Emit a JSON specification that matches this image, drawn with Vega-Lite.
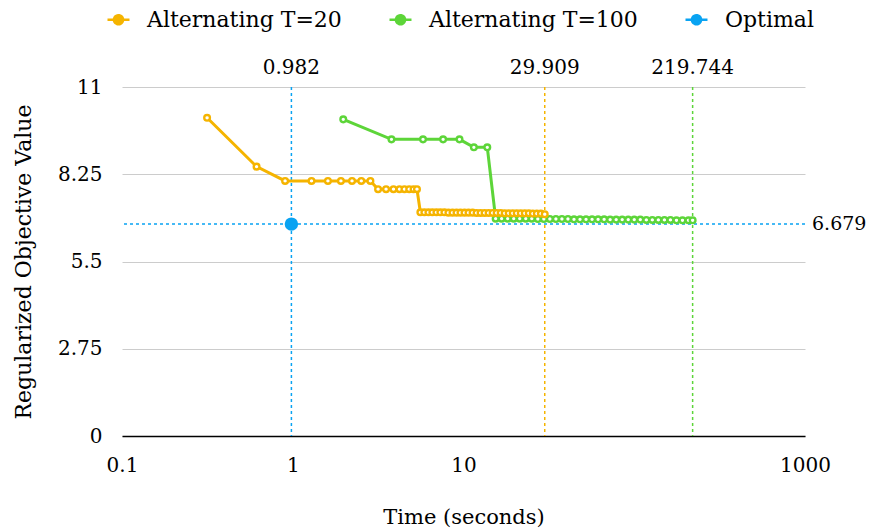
{
  "$schema": "https://vega.github.io/schema/vega-lite/v6.json",
  "width": 683,
  "height": 349,
  "autosize": {"type": "none"},
  "padding": {"left": 122, "top": 87, "right": 65, "bottom": 93},
  "background": "white",
  "config": {
    "font": "DejaVu Serif",
    "view": {"stroke": null},
    "axis": {"labelColor": "black", "titleColor": "black", "labelFont": "DejaVu Serif", "titleFont": "DejaVu Serif"},
    "legend": {"labelFont": "DejaVu Serif"},
    "text": {"font": "DejaVu Serif"}
  },
  "datasets": {
    "t20": [
      {"series": "Alternating T=20", "x": 0.315, "y": 10.03},
      {"series": "Alternating T=20", "x": 0.614, "y": 8.49},
      {"series": "Alternating T=20", "x": 0.902, "y": 8.04},
      {"series": "Alternating T=20", "x": 1.288, "y": 8.04},
      {"series": "Alternating T=20", "x": 1.607, "y": 8.04},
      {"series": "Alternating T=20", "x": 1.915, "y": 8.04},
      {"series": "Alternating T=20", "x": 2.224, "y": 8.04},
      {"series": "Alternating T=20", "x": 2.52, "y": 8.04},
      {"series": "Alternating T=20", "x": 2.85, "y": 8.04},
      {"series": "Alternating T=20", "x": 3.16, "y": 7.78},
      {"series": "Alternating T=20", "x": 3.52, "y": 7.78},
      {"series": "Alternating T=20", "x": 3.89, "y": 7.78},
      {"series": "Alternating T=20", "x": 4.22, "y": 7.78},
      {"series": "Alternating T=20", "x": 4.51, "y": 7.78},
      {"series": "Alternating T=20", "x": 4.81, "y": 7.78},
      {"series": "Alternating T=20", "x": 5.1, "y": 7.78},
      {"series": "Alternating T=20", "x": 5.34, "y": 7.78},
      {"series": "Alternating T=20", "x": 5.59, "y": 7.05},
      {"series": "Alternating T=20", "x": 5.9, "y": 7.05},
      {"series": "Alternating T=20", "x": 6.23, "y": 7.05},
      {"series": "Alternating T=20", "x": 6.57, "y": 7.05},
      {"series": "Alternating T=20", "x": 6.94, "y": 7.05},
      {"series": "Alternating T=20", "x": 7.32, "y": 7.05},
      {"series": "Alternating T=20", "x": 7.73, "y": 7.05},
      {"series": "Alternating T=20", "x": 8.16, "y": 7.04},
      {"series": "Alternating T=20", "x": 8.62, "y": 7.04},
      {"series": "Alternating T=20", "x": 9.1, "y": 7.04},
      {"series": "Alternating T=20", "x": 9.6, "y": 7.04},
      {"series": "Alternating T=20", "x": 10.14, "y": 7.04},
      {"series": "Alternating T=20", "x": 10.7, "y": 7.04},
      {"series": "Alternating T=20", "x": 11.3, "y": 7.04},
      {"series": "Alternating T=20", "x": 11.93, "y": 7.03},
      {"series": "Alternating T=20", "x": 12.59, "y": 7.03},
      {"series": "Alternating T=20", "x": 13.29, "y": 7.03},
      {"series": "Alternating T=20", "x": 14.03, "y": 7.03},
      {"series": "Alternating T=20", "x": 14.81, "y": 7.03},
      {"series": "Alternating T=20", "x": 15.64, "y": 7.03},
      {"series": "Alternating T=20", "x": 16.51, "y": 7.03},
      {"series": "Alternating T=20", "x": 17.43, "y": 7.02},
      {"series": "Alternating T=20", "x": 18.4, "y": 7.02},
      {"series": "Alternating T=20", "x": 19.42, "y": 7.02},
      {"series": "Alternating T=20", "x": 20.5, "y": 7.02},
      {"series": "Alternating T=20", "x": 21.64, "y": 7.02},
      {"series": "Alternating T=20", "x": 22.85, "y": 7.02},
      {"series": "Alternating T=20", "x": 24.12, "y": 7.02},
      {"series": "Alternating T=20", "x": 25.46, "y": 7.01},
      {"series": "Alternating T=20", "x": 26.88, "y": 7.01},
      {"series": "Alternating T=20", "x": 28.38, "y": 7.01},
      {"series": "Alternating T=20", "x": 29.909, "y": 6.99}
    ],
    "t100": [
      {"series": "Alternating T=100", "x": 1.976, "y": 9.98},
      {"series": "Alternating T=100", "x": 3.786, "y": 9.35},
      {"series": "Alternating T=100", "x": 5.793, "y": 9.35},
      {"series": "Alternating T=100", "x": 7.596, "y": 9.35},
      {"series": "Alternating T=100", "x": 9.474, "y": 9.35},
      {"series": "Alternating T=100", "x": 11.5, "y": 9.1},
      {"series": "Alternating T=100", "x": 13.78, "y": 9.1},
      {"series": "Alternating T=100", "x": 15.43, "y": 6.85},
      {"series": "Alternating T=100", "x": 16.73, "y": 6.85},
      {"series": "Alternating T=100", "x": 18.15, "y": 6.85},
      {"series": "Alternating T=100", "x": 19.69, "y": 6.85},
      {"series": "Alternating T=100", "x": 21.35, "y": 6.85},
      {"series": "Alternating T=100", "x": 23.16, "y": 6.85},
      {"series": "Alternating T=100", "x": 25.12, "y": 6.85},
      {"series": "Alternating T=100", "x": 27.25, "y": 6.84},
      {"series": "Alternating T=100", "x": 29.55, "y": 6.84},
      {"series": "Alternating T=100", "x": 32.05, "y": 6.84},
      {"series": "Alternating T=100", "x": 34.77, "y": 6.84},
      {"series": "Alternating T=100", "x": 37.71, "y": 6.84},
      {"series": "Alternating T=100", "x": 40.9, "y": 6.84},
      {"series": "Alternating T=100", "x": 44.37, "y": 6.83},
      {"series": "Alternating T=100", "x": 48.12, "y": 6.83},
      {"series": "Alternating T=100", "x": 52.2, "y": 6.83},
      {"series": "Alternating T=100", "x": 56.62, "y": 6.83},
      {"series": "Alternating T=100", "x": 61.41, "y": 6.83},
      {"series": "Alternating T=100", "x": 66.61, "y": 6.83},
      {"series": "Alternating T=100", "x": 72.25, "y": 6.82},
      {"series": "Alternating T=100", "x": 78.37, "y": 6.82},
      {"series": "Alternating T=100", "x": 85.0, "y": 6.82},
      {"series": "Alternating T=100", "x": 92.2, "y": 6.82},
      {"series": "Alternating T=100", "x": 100.0, "y": 6.82},
      {"series": "Alternating T=100", "x": 108.5, "y": 6.82},
      {"series": "Alternating T=100", "x": 117.7, "y": 6.81},
      {"series": "Alternating T=100", "x": 127.6, "y": 6.81},
      {"series": "Alternating T=100", "x": 138.4, "y": 6.81},
      {"series": "Alternating T=100", "x": 150.2, "y": 6.81},
      {"series": "Alternating T=100", "x": 162.9, "y": 6.81},
      {"series": "Alternating T=100", "x": 176.7, "y": 6.8},
      {"series": "Alternating T=100", "x": 191.6, "y": 6.8},
      {"series": "Alternating T=100", "x": 207.8, "y": 6.8},
      {"series": "Alternating T=100", "x": 219.744, "y": 6.8}
    ],
    "refs": [
      {"series": "Optimal", "x": 0.982, "y": 6.679},
      {"series": "Alternating T=20", "x": 29.909, "y": 6.99},
      {"series": "Alternating T=100", "x": 219.744, "y": 6.8}
    ]
  },
  "layer": [
    {
      "data": {"name": "refs"},
      "mark": {"type": "rule", "strokeDash": [3, 3], "strokeWidth": 1.5},
      "encoding": {
        "x": {
          "field": "x", "type": "quantitative",
          "scale": {"type": "log", "domain": [0.1, 1000], "nice": false},
          "axis": {
            "values": [0.1, 1, 10, 1000], "format": "~g", "grid": false, "ticks": false,
            "domain": true, "domainColor": "black", "domainWidth": 1.5,
            "labelFontSize": 20, "labelPadding": 19, "labelFlush": false, "labelOverlap": false,
            "title": "Time (seconds)", "titleFontSize": 21, "titleFontWeight": "normal", "titlePadding": 31
          }
        },
        "color": {
          "field": "series", "type": "nominal",
          "scale": {"domain": ["Alternating T=20", "Alternating T=100", "Optimal"], "range": ["#F5B400", "#5DD539", "#09A3F2"]},
          "legend": {
            "title": null, "orient": "none", "legendX": -16, "legendY": -80, "direction": "horizontal",
            "labelFontSize": 22, "labelColor": "black", "labelLimit": 400,
            "symbolSize": 484, "symbolStrokeWidth": 2.5, "labelOffset": 16, "columnPadding": 42, "padding": 0,
            "encode": {
              "symbols": {
                "update": {
                  "shape": {"condition": {"test": "datum.value === 'Optimal'", "value": "M0.45,0A0.45,0.45 0 1 1 -0.45,0A0.45,0.45 0 1 1 0.45,0Z"}, "value": "M-1,0L-0.42,0M0.42,0L1,0M0.42,0A0.42,0.42 0 1 1 -0.42,0A0.42,0.42 0 1 1 0.42,0Z"},
                  "size": {"value": 484},
                  "fill": {"condition": {"test": "datum.value === 'Optimal'", "value": "#09A3F2"}, "value": "#ffffff"},
                  "strokeWidth": {"condition": {"test": "datum.value === 'Optimal'", "value": 0}, "value": 2.4},
                  "strokeDash": {"value": [1, 0]},
                  "opacity": {"value": 1}
                }
              }
            }
          }
        }
      }
    },
    {
      "data": {"name": "refs"},
      "transform": [{"filter": "datum.series === 'Optimal'"}],
      "mark": {"type": "rule", "strokeDash": [3, 3], "strokeWidth": 1.5},
      "encoding": {
        "y": {
          "field": "y", "type": "quantitative",
          "scale": {"domain": [0, 11], "nice": false, "zero": true},
          "axis": {
            "values": [0, 2.75, 5.5, 8.25, 11], "format": ".3~g", "grid": true, "gridColor": "#cccccc", "gridWidth": 1,
            "domain": false, "ticks": false, "labelFontSize": 20, "labelPadding": 20,
            "title": "Regularized Objective Value", "titleFontSize": 22, "titleFontWeight": "normal", "titlePadding": 22
          }
        },
        "color": {"field": "series", "type": "nominal"}
      }
    },
    {
      "data": {"name": "t100"},
      "mark": {"type": "line", "strokeWidth": 3},
      "encoding": {
        "x": {"field": "x", "type": "quantitative"},
        "y": {"field": "y", "type": "quantitative"},
        "color": {"field": "series", "type": "nominal"}
      }
    },
    {
      "data": {"name": "t100"},
      "mark": {"type": "point", "filled": false, "fill": "white", "size": 32, "strokeWidth": 2.4, "opacity": 1},
      "encoding": {
        "x": {"field": "x", "type": "quantitative"},
        "y": {"field": "y", "type": "quantitative"},
        "color": {"field": "series", "type": "nominal"}
      }
    },
    {
      "data": {"name": "t20"},
      "mark": {"type": "line", "strokeWidth": 3},
      "encoding": {
        "x": {"field": "x", "type": "quantitative"},
        "y": {"field": "y", "type": "quantitative"},
        "color": {"field": "series", "type": "nominal"}
      }
    },
    {
      "data": {"name": "t20"},
      "mark": {"type": "point", "filled": false, "fill": "white", "size": 32, "strokeWidth": 2.4, "opacity": 1},
      "encoding": {
        "x": {"field": "x", "type": "quantitative"},
        "y": {"field": "y", "type": "quantitative"},
        "color": {"field": "series", "type": "nominal"}
      }
    },
    {
      "data": {"name": "refs"},
      "transform": [{"filter": "datum.series === 'Optimal'"}],
      "mark": {"type": "circle", "size": 180, "opacity": 1},
      "encoding": {
        "x": {"field": "x", "type": "quantitative"},
        "y": {"field": "y", "type": "quantitative"},
        "color": {"field": "series", "type": "nominal"}
      }
    },
    {
      "data": {"name": "refs"},
      "mark": {"type": "text", "baseline": "bottom", "dy": -9, "fontSize": 20, "color": "black"},
      "encoding": {
        "x": {"field": "x", "type": "quantitative"},
        "y": {"datum": 11, "type": "quantitative"},
        "text": {"field": "x", "type": "quantitative", "format": ".3f"}
      }
    },
    {
      "data": {"name": "refs"},
      "transform": [{"filter": "datum.series === 'Optimal'"}],
      "mark": {"type": "text", "align": "left", "baseline": "middle", "dx": 7, "fontSize": 19, "color": "black"},
      "encoding": {
        "x": {"datum": 1000, "type": "quantitative"},
        "y": {"field": "y", "type": "quantitative"},
        "text": {"field": "y", "type": "quantitative", "format": ".3f"}
      }
    }
  ]
}
